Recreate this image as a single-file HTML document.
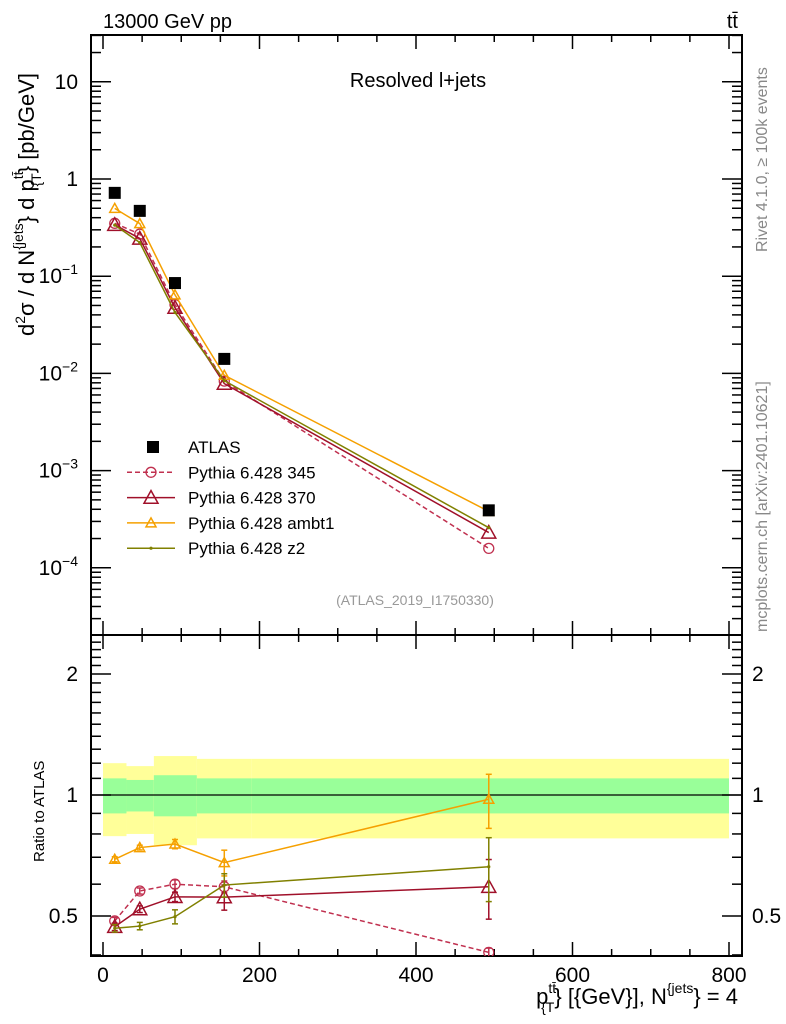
<!DOCTYPE html>
<html><head><meta charset="utf-8"><style>
body{margin:0;background:#fff;font-family:"Liberation Sans",sans-serif}
svg{display:block}
text{font-family:"Liberation Sans","DejaVu Sans",sans-serif}
</style></head><body>
<svg id="c" width="786" height="1024" viewBox="0 0 786 1024">
<text x="103" y="28" font-size="20">13000 GeV pp</text>
<text x="738" y="28" font-size="20" text-anchor="end">tt̄</text>
<text x="418" y="87" font-size="20" text-anchor="middle">Resolved l+jets</text>
<text x="415" y="605" font-size="14" fill="#999" text-anchor="middle">(ATLAS_2019_I1750330)</text>
<text transform="translate(767,252) rotate(-90)" font-size="16" fill="#888">Rivet 4.1.0, ≥ 100k events</text>
<text transform="translate(767,632) rotate(-90)" font-size="16" fill="#888">mcplots.cern.ch [arXiv:2401.10621]</text>
<text transform="translate(34,336) rotate(-90)" font-size="22">d<tspan font-size="14" dy="-9">2</tspan><tspan dy="9">σ / d N</tspan><tspan font-size="14" dy="-11">{jets</tspan><tspan dy="11">} d p</tspan><tspan font-size="14" dy="-11">tt̄</tspan><tspan font-size="14" dx="-15" dy="18">{T</tspan><tspan dy="-7">} [pb/GeV]</tspan></text>
<text transform="translate(44,862) rotate(-90)" font-size="15">Ratio to ATLAS</text>
<text x="738" y="1004" font-size="22" text-anchor="end">p<tspan font-size="14" dy="-11">tt̄</tspan><tspan font-size="14" dx="-15" dy="19">{T</tspan><tspan dy="-8">} [{GeV}], N</tspan><tspan font-size="14" dy="-11">{jets</tspan><tspan dy="11">} = 4</tspan></text>
<g id="g"></g>
</svg>
<script>
const xEdges=[0,30,65,120,190,800];
const xPts=[15,47,92,155,493];
const atlas=[0.72,0.47,0.085,0.0141,0.00039];
const bandY=[[0.79,1.20],[0.80,1.18],[0.75,1.25],[0.78,1.23],[0.78,1.23]];
const bandG=[[0.90,1.10],[0.91,1.09],[0.885,1.12],[0.90,1.10],[0.90,1.10]];
const r345=[0.486,0.577,0.600,0.591,0.406];
const r370=[0.470,0.520,0.558,0.557,0.591];
const rAmbt1=[0.692,0.740,0.755,0.679,0.976];
const rZ2=[0.466,0.472,0.498,0.597,0.663];
const e345=[0.01,0.01,0.015,0.02,0.01];
const e370=[0.01,0.01,0.015,0.04,0.1];
const eAmbt1=[0.01,0.01,0.02,0.05,0.15];
const eZ2=[0.01,0.01,0.02,0.04,0.12];
const xTicks=[0,200,400,600,800];
const mainTicks=[-4,-3,-2,-1,0,1];
const ratioTicks=[0.5,1,2];

const L=91,R=742,T=35,M=635,B=956;
const X=v=>103+v*0.7825;
const Y=v=>179-Math.log10(v)*97.2;
const RY=v=>795-Math.log2(v)*121;
const g=document.getElementById('g');
const NS='http://www.w3.org/2000/svg';
function el(t,a,p){const e=document.createElementNS(NS,t);for(const k in a)e.setAttribute(k,a[k]);(p||g).appendChild(e);return e;}

const clip=el('clipPath',{id:'cr'});el('rect',{x:L,y:M,width:R-L,height:B-M},clip);
const bands=el('g',{'clip-path':'url(#cr)'});


for(let i=0;i<5;i++){
 const r=el('rect',{x:X(xEdges[i]),y:RY(bandY[i][1]),width:X(xEdges[i+1])-X(xEdges[i]),height:RY(bandY[i][0])-RY(bandY[i][1]),fill:'#ffff99'},bands);
 
 
 const r2=el('rect',{x:X(xEdges[i]),y:RY(bandG[i][1]),width:X(xEdges[i+1])-X(xEdges[i]),height:RY(bandG[i][0])-RY(bandG[i][1]),fill:'#99ff99'},bands);
 
 
}
el('line',{x1:L,x2:R,y1:RY(1),y2:RY(1),stroke:'#000','stroke-width':1.2});

el('rect',{x:L,y:T,width:R-L,height:M-T,fill:'none',stroke:'#000','stroke-width':2});
el('rect',{x:L,y:M,width:R-L,height:B-M,fill:'none',stroke:'#000','stroke-width':2});

for(let v=0;v<=800;v+=50){
 const x=X(v),len=v%200===0?14:7;
 [[T,1],[M,-1],[M,1],[B,-1]].forEach(([y,d])=>el('line',{x1:x,x2:x,y1:y,y2:y+d*len,stroke:'#000','stroke-width':1.5}));
}
xTicks.forEach(v=>{const t=el('text',{x:X(v),y:982,'font-size':21,'text-anchor':'middle'});t.textContent=v;
 
 });
for(let d=-5;d<=1;d++)for(let m=1;m<10;m++){
 const y=Y(m*Math.pow(10,d));if(y<T||y>M)continue;const len=m===1?20:10;
 el('line',{x1:L,x2:L+len,y1:y,y2:y,stroke:'#000','stroke-width':1.5});
 el('line',{x1:R,x2:R-len,y1:y,y2:y,stroke:'#000','stroke-width':1.5});
}
mainTicks.forEach(d=>{
 const t=el('text',{x:78,y:Y(Math.pow(10,d))+7,'font-size':21,'text-anchor':'end'});
 
 
 if(d===0)t.textContent='1';else if(d===1)t.textContent='10';
 else{t.textContent='10';const s=el('tspan',{'font-size':14,dy:-9},t);s.textContent='−'+(-d);}
});
for(let v=0.4;v<=2.45;v+=0.1){
 const y=RY(v);if(y<M||y>B)continue;const maj=[0.5,1,2].some(m=>Math.abs(m-v)<1e-6);const len=maj?20:10;
 el('line',{x1:L,x2:L+len,y1:y,y2:y,stroke:'#000','stroke-width':1.5});
 el('line',{x1:R,x2:R-len,y1:y,y2:y,stroke:'#000','stroke-width':1.5});
}
ratioTicks.forEach(v=>{
 const t=el('text',{x:78,y:RY(v)+7,'font-size':21,'text-anchor':'end'});t.textContent=v;
 
 
 const t2=el('text',{x:752,y:RY(v)+7,'font-size':21});t2.textContent=v;
 
 
});

function marker(kind,x,y,c,s,par){
 if(kind==='circle')el('circle',{cx:x,cy:y,r:s,fill:'none',stroke:c,'stroke-width':1.3},par);
 else if(kind==='tri')el('path',{d:`M${x-s},${y+s*0.8}L${x+s},${y+s*0.8}L${x},${y-s}Z`,fill:'none',stroke:c,'stroke-width':1.5},par);
 else if(kind==='dot')el('circle',{cx:x,cy:y,r:1.6,fill:c},par);
}
const series=[
 {name:'series-pythia-345',r:r345,e:e345,c:'#c0304f',k:'circle',s:5,dash:'5,3'},
 {name:'series-pythia-370',r:r370,e:e370,c:'#a0102a',k:'tri',s:7,dash:''},
 {name:'series-pythia-ambt1',r:rAmbt1,e:eAmbt1,c:'#f5a000',k:'tri',s:5,dash:''},
 {name:'series-pythia-z2',r:rZ2,e:eZ2,c:'#808000',k:'dot',s:2,dash:''}
];
series.forEach(S=>{
 const gm=el('g',{});
 
 
 const pm=xPts.map((x,i)=>[X(x),Y(atlas[i]*S.r[i])]);
 el('polyline',{points:pm.join(' '),fill:'none',stroke:S.c,'stroke-width':1.5,'stroke-dasharray':S.dash},gm);
 pm.forEach(p=>marker(S.k,p[0],p[1],S.c,S.s,gm));
 const gr=el('g',{'clip-path':'url(#cr)'});
 
 
 const pr=xPts.map((x,i)=>[X(x),RY(S.r[i])]);
 el('polyline',{points:pr.join(' '),fill:'none',stroke:S.c,'stroke-width':1.5,'stroke-dasharray':S.dash},gr);
 pr.forEach((p,i)=>{
  const y1=RY(S.r[i]+S.e[i]),y2=RY(Math.max(0.3,S.r[i]-S.e[i]));
  el('line',{x1:p[0],x2:p[0],y1:y1,y2:y2,stroke:S.c,'stroke-width':1.5},gr);
  el('line',{x1:p[0]-3,x2:p[0]+3,y1:y1,y2:y1,stroke:S.c,'stroke-width':1.5},gr);
  el('line',{x1:p[0]-3,x2:p[0]+3,y1:y2,y2:y2,stroke:S.c,'stroke-width':1.5},gr);
  marker(S.k,p[0],p[1],S.c,S.s,gr);
 });
});
const ga=el('g',{});


xPts.forEach((x,i)=>{const r=el('rect',{x:X(x)-6,y:Y(atlas[i])-6,width:12,height:12,fill:'#000'},ga);
 
 });

const leg=[['ATLAS','sq','#000',''],['Pythia 6.428 345','circle','#c0304f','5,3'],['Pythia 6.428 370','tri','#a0102a',''],['Pythia 6.428 ambt1','tri','#f5a000',''],['Pythia 6.428 z2','dot','#808000','']];
leg.forEach((l,i)=>{
 const y=447+i*25.3;
 const gl=el('g',{});
 
 
 if(l[1]==='sq')el('rect',{x:147,y:y-6,width:12,height:12,fill:'#000'},gl);
 else{el('line',{x1:127,x2:175,y1:y,y2:y,stroke:l[2],'stroke-width':1.5,'stroke-dasharray':l[3]},gl);marker(l[1],151,y,l[2],l[1]==='tri'&&i===2?7:5,gl);}
 const t=el('text',{x:188,y:y+6,'font-size':17},gl);t.textContent=l[0];
});
</script>
</body></html>
